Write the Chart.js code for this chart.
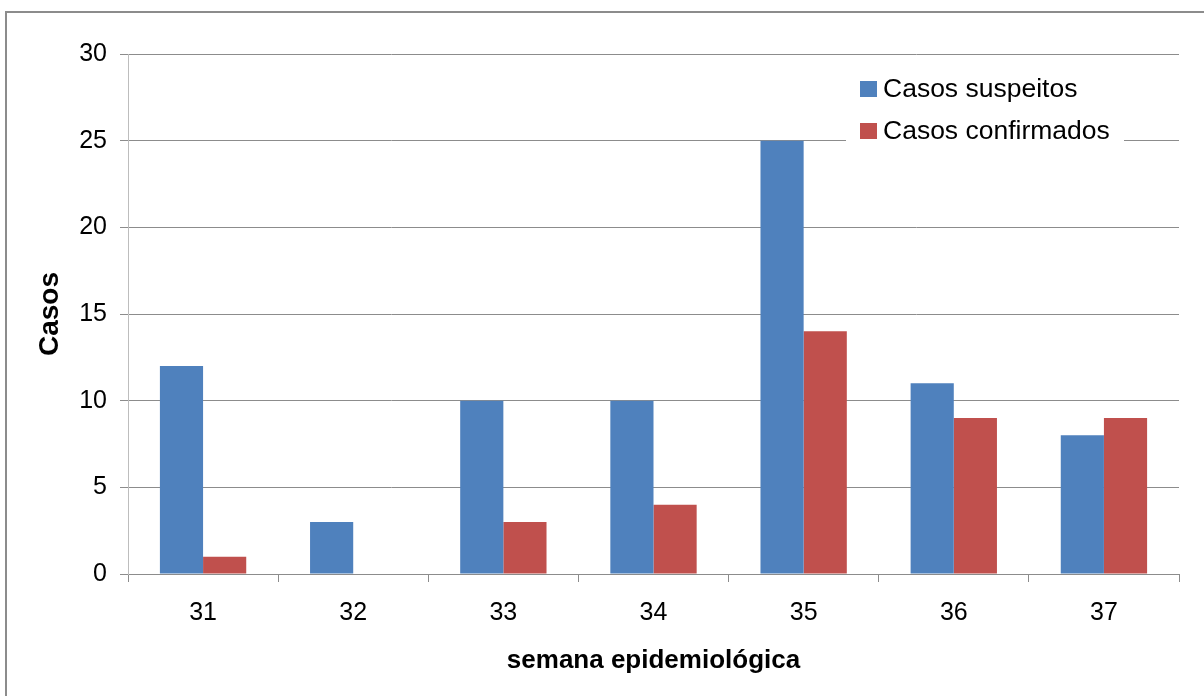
<!DOCTYPE html>
<html>
<head>
<meta charset="utf-8">
<script src="https://cdn.jsdelivr.net/npm/chart.js@4"></script>
<style>
  html, body { margin: 0; padding: 0; background: #fff; }
  #wrap { width: 1204px; height: 696px; position: relative; }
</style>
</head>
<body>
<div id="wrap"><canvas id="casosChart" width="1204" height="696"></canvas></div>
<script>
var semanas = ['31', '32', '33', '34', '35', '36', '37'];
var casosSuspeitos = [12, 3, 10, 10, 25, 11, 8];
var casosConfirmados = [1, 0, 3, 4, 14, 9, 9];
var serieNomes = ['Casos suspeitos', 'Casos confirmados'];
var serieCores = ['#4F81BD', '#C0504D'];

Chart.defaults.font.family = '"Liberation Sans", Arial, sans-serif';
Chart.defaults.color = '#000';

// moldura cinza em volta do grafico
var moldura = {
	id: 'moldura',
	beforeDraw: function(chart) {
		var ctx = chart.ctx;
		ctx.save();
		ctx.fillStyle = '#fff';
		ctx.fillRect(0, 0, chart.width, chart.height);
		ctx.strokeStyle = '#8c8c8c';
		ctx.lineWidth = 2;
		ctx.beginPath();
		ctx.moveTo(6, chart.height + 2);
		ctx.lineTo(6, 12);
		ctx.lineTo(chart.width + 2, 12);
		ctx.stroke();
		ctx.restore();
	}
};

// legenda dentro da area do grafico, com fundo branco
var legendaInterna = {
	id: 'legendaInterna',
	afterDatasetsDraw: function(chart) {
		var ctx = chart.ctx;
		ctx.save();
		ctx.fillStyle = '#fff';
		ctx.fillRect(846, 62, 278, 92);
		ctx.font = '26.5px "Liberation Sans", Arial, sans-serif';
		ctx.textBaseline = 'middle';
		chart.data.datasets.forEach(function(ds, i) {
			var y = 89 + i * 42;
			ctx.fillStyle = ds.backgroundColor;
			ctx.fillRect(860, y - 8, 17, 16);
			ctx.fillStyle = '#000';
			ctx.fillText(ds.label, 883, y + 1);
		});
		ctx.restore();
	}
};

var casosCtx = document.getElementById('casosChart');
var casosChart = new Chart(casosCtx, {
	type: 'bar',
	data: {
		labels: semanas,
		datasets: [{
			label: serieNomes[0],
			data: casosSuspeitos,
			backgroundColor: serieCores[0],
			categoryPercentage: 0.575,
			barPercentage: 1
		}, {
			label: serieNomes[1],
			data: casosConfirmados,
			backgroundColor: serieCores[1],
			categoryPercentage: 0.575,
			barPercentage: 1
		}]
	},
	options: {
		responsive: false,
		animation: false,
		layout: { padding: { top: 54, right: 25, left: 0, bottom: 0 } },
		plugins: {
			legend: { display: false },
			tooltip: { enabled: false }
		},
		scales: {
			x: {
				afterFit: function(scale) { scale.height = 122; },
				grid: { drawOnChartArea: false, tickLength: 8, color: '#8c8c8c', offset: true },
				border: { color: '#8c8c8c' },
				ticks: { font: { size: 25 }, padding: 16 },
				title: { display: true, text: 'semana epidemiológica', font: { size: 26, weight: 'bold' }, padding: { top: 0, bottom: 20 } }
			},
			y: {
				min: 0,
				max: 30,
				afterFit: function(scale) { scale.width = 128; },
				ticks: { stepSize: 5, font: { size: 25 }, padding: 13 },
				grid: { color: '#8c8c8c', tickLength: 8 },
				border: { color: '#bdbdbd' },
				title: { display: true, text: 'Casos', font: { size: 28, weight: 'bold' }, padding: { top: 33, bottom: 0 } }
			}
		}
	},
	plugins: [moldura, legendaInterna]
});
</script>
</body>
</html>
